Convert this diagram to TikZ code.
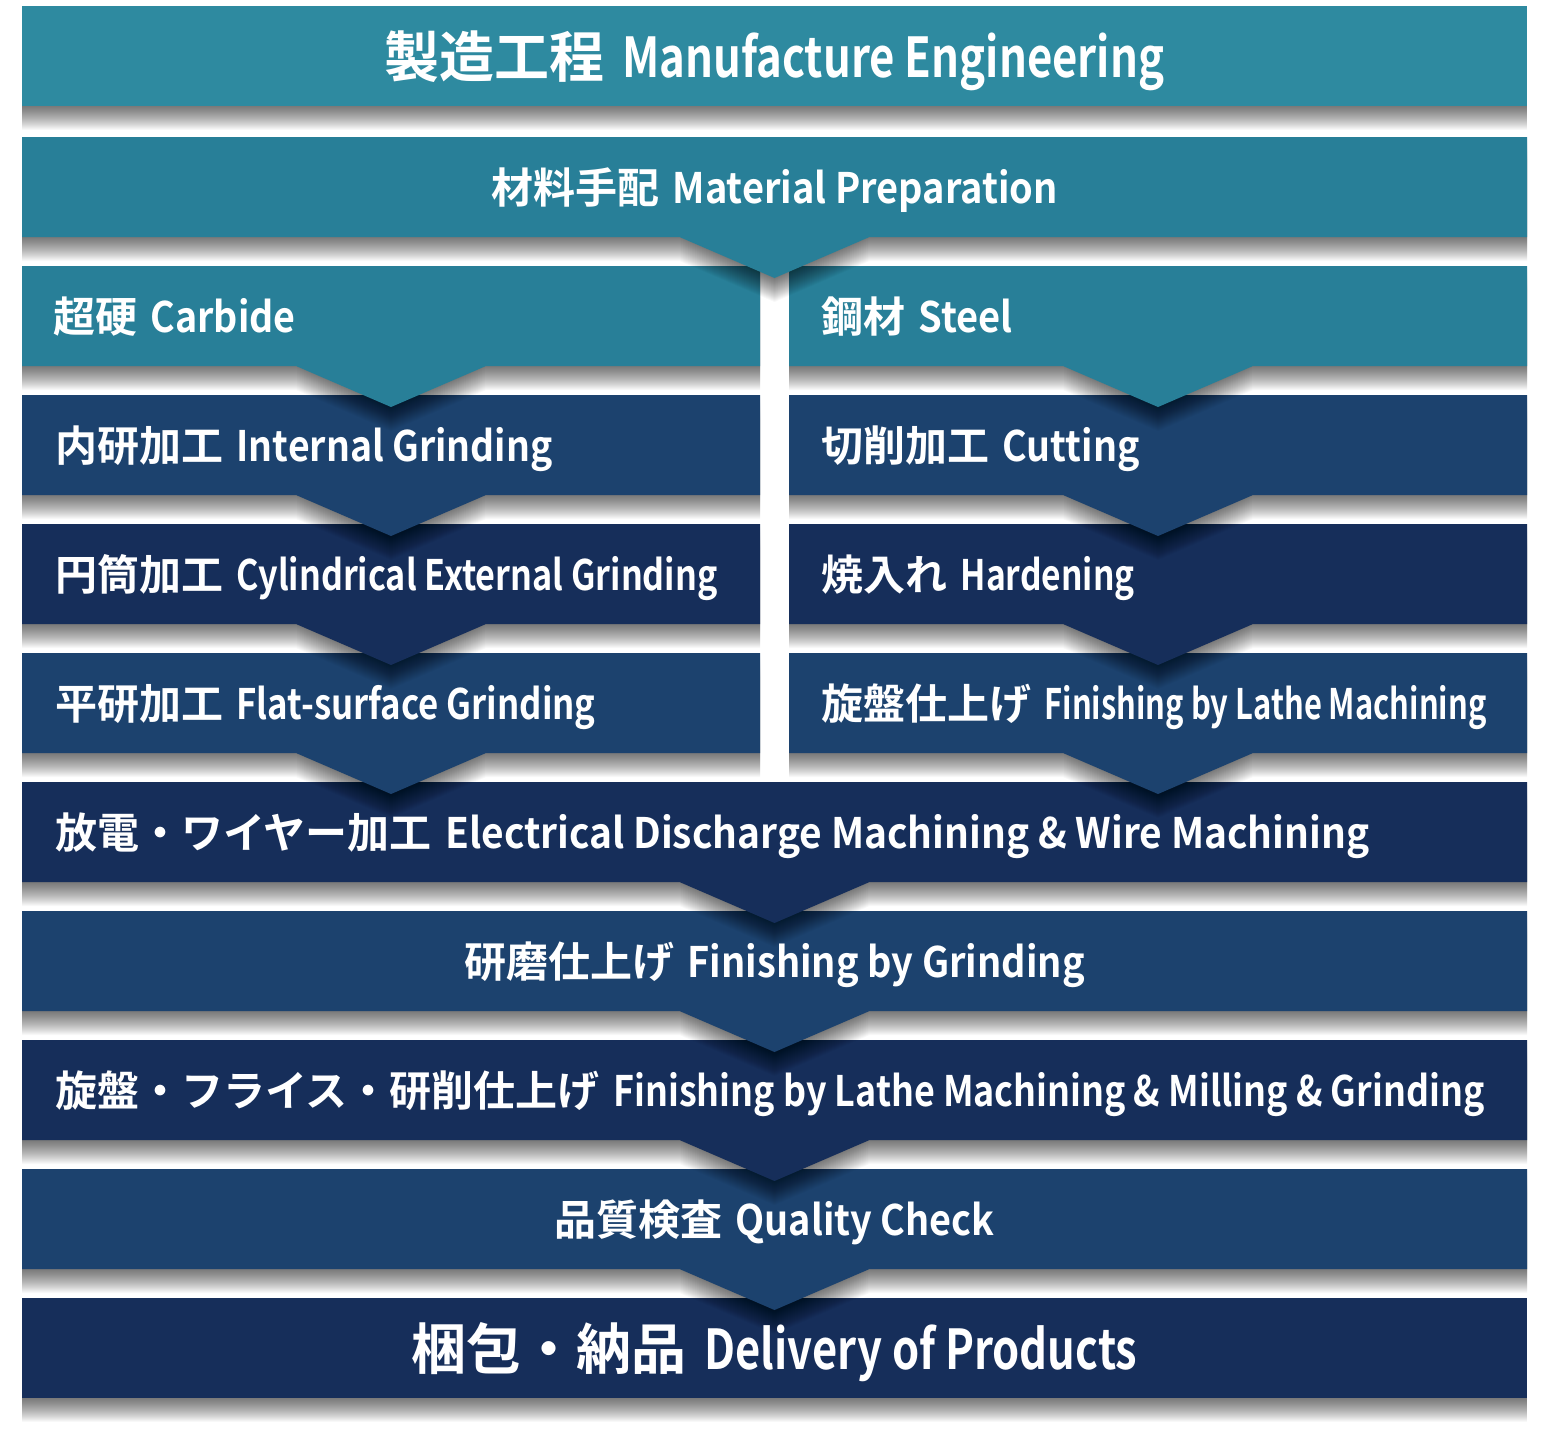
\documentclass[tikz,border=0pt]{standalone}
\usepackage{fontspec}
\usepackage{graphicx}
\setmainfont{Noto Sans CJK JP}[BoldFont=* Bold]
\definecolor{tealA}{HTML}{2E8AA0}
\definecolor{tealB}{HTML}{287F98}
\definecolor{navyA}{HTML}{1C426E}
\definecolor{navyB}{HTML}{162E5A}
\tikzset{
  shadowlayer/.style={fill=black, fill opacity=0.028},
  lbl/.style={text=white, inner sep=0pt, font=\bfseries\fontsize{42}{42}\selectfont},
  biglbl/.style={text=white, inner sep=0pt, font=\bfseries\fontsize{55}{55}\selectfont}
}
% #1 x1, #2 y1, #3 x2, #4 y2, #5 arrow centre x, #6 colour
\newcommand\arrowpath[5]{(#1,#2) -- (#3,#2) -- (#3,#4) -- ({#5+95},#4) -- (#5,{#4+41}) -- ({#5-95},#4) -- (#1,#4) -- cycle}
\newcommand\arrowbox[6]{%
  \foreach \s in {1,...,24}{\fill[shadowlayer, yshift=-\s pt] \arrowpath{#1}{#2}{#3}{#4}{#5};}
  \fill[#6] \arrowpath{#1}{#2}{#3}{#4}{#5};}
\newcommand\plainbox[5]{%
  \foreach \s in {1,...,24}{\fill[shadowlayer, yshift=-\s pt] (#1,#2) rectangle (#3,#4);}
  \fill[#5] (#1,#2) rectangle (#3,#4);}
\newcommand\mixlbl[3]{#1\hspace{0.32em}\resizebox{#2pt}{\height}{#3}}
\begin{document}
\begin{tikzpicture}[x=1pt,y=-1pt]
\useasboundingbox (0,0) rectangle (1547,1433);
\fill[white] (0,0) rectangle (1547,1433);
% boxes, drawn bottom-up so arrows and shadows overlap the next box
\plainbox{22}{1298}{1527}{1398}{navyB}
\arrowbox{22}{1169}{1527}{1269}{774.5}{navyA}
\arrowbox{22}{1040}{1527}{1140}{774.5}{navyB}
\arrowbox{22}{911}{1527}{1011}{774.5}{navyA}
\arrowbox{22}{782}{1527}{882}{774.5}{navyB}
\arrowbox{22}{653}{760}{753}{391}{navyA}
\arrowbox{789}{653}{1527}{753}{1158}{navyA}
\arrowbox{22}{524}{760}{624}{391}{navyB}
\arrowbox{789}{524}{1527}{624}{1158}{navyB}
\arrowbox{22}{395}{760}{495}{391}{navyA}
\arrowbox{789}{395}{1527}{495}{1158}{navyA}
\arrowbox{22}{266}{760}{366}{391}{tealB}
\arrowbox{789}{266}{1527}{366}{1158}{tealB}
\arrowbox{22}{137}{1527}{237}{774.5}{tealB}
\plainbox{22}{6}{1527}{106}{tealA}
% labels
\node[biglbl, anchor=base] (title) at (774.5,77) {\mixlbl{製造工程}{542}{Manufacture Engineering}};
\node[lbl, anchor=base] (mat) at (774.5,203) {\mixlbl{材料手配}{385}{Material Preparation}};
\node[lbl, anchor=base west] (carb) at (53,332) {\mixlbl{超硬}{145}{Carbide}};
\node[lbl, anchor=base west] (steel) at (821,332) {\mixlbl{鋼材}{94}{Steel}};
\node[lbl, anchor=base west] (intg) at (55,461) {\mixlbl{内研加工}{316}{Internal Grinding}};
\node[lbl, anchor=base west] (cut) at (821,461) {\mixlbl{切削加工}{137}{Cutting}};
\node[lbl, anchor=base west] (cyl) at (55,590) {\mixlbl{円筒加工}{481}{Cylindrical External Grinding}};
\node[lbl, anchor=base west] (hard) at (821,590) {\mixlbl{焼入れ}{174}{Hardening}};
\node[lbl, anchor=base west] (flat) at (55,719) {\mixlbl{平研加工}{359}{Flat-surface Grinding}};
\node[lbl, anchor=base west] (lathe) at (821,719) {\mixlbl{旋盤仕上げ}{442}{Finishing by Lathe Machining}};
\node[lbl, anchor=base west] (edm) at (55,848) {\mixlbl{放電・ワイヤー加工}{924}{Electrical Discharge Machining \& Wire Machining}};
\node[lbl, anchor=base] (fgr) at (774.5,977) {\mixlbl{研磨仕上げ}{397}{Finishing by Grinding}};
\node[lbl, anchor=base west] (lmg) at (55,1106) {\mixlbl{旋盤・フライス・研削仕上げ}{871}{Finishing by Lathe Machining \& Milling \& Grinding}};
\node[lbl, anchor=base] (qc) at (774.5,1235) {\mixlbl{品質検査}{259}{Quality Check}};
\node[biglbl, anchor=base] (del) at (774.5,1369) {\mixlbl{梱包・納品}{433}{Delivery of Products}};
\end{tikzpicture}
\end{document}
